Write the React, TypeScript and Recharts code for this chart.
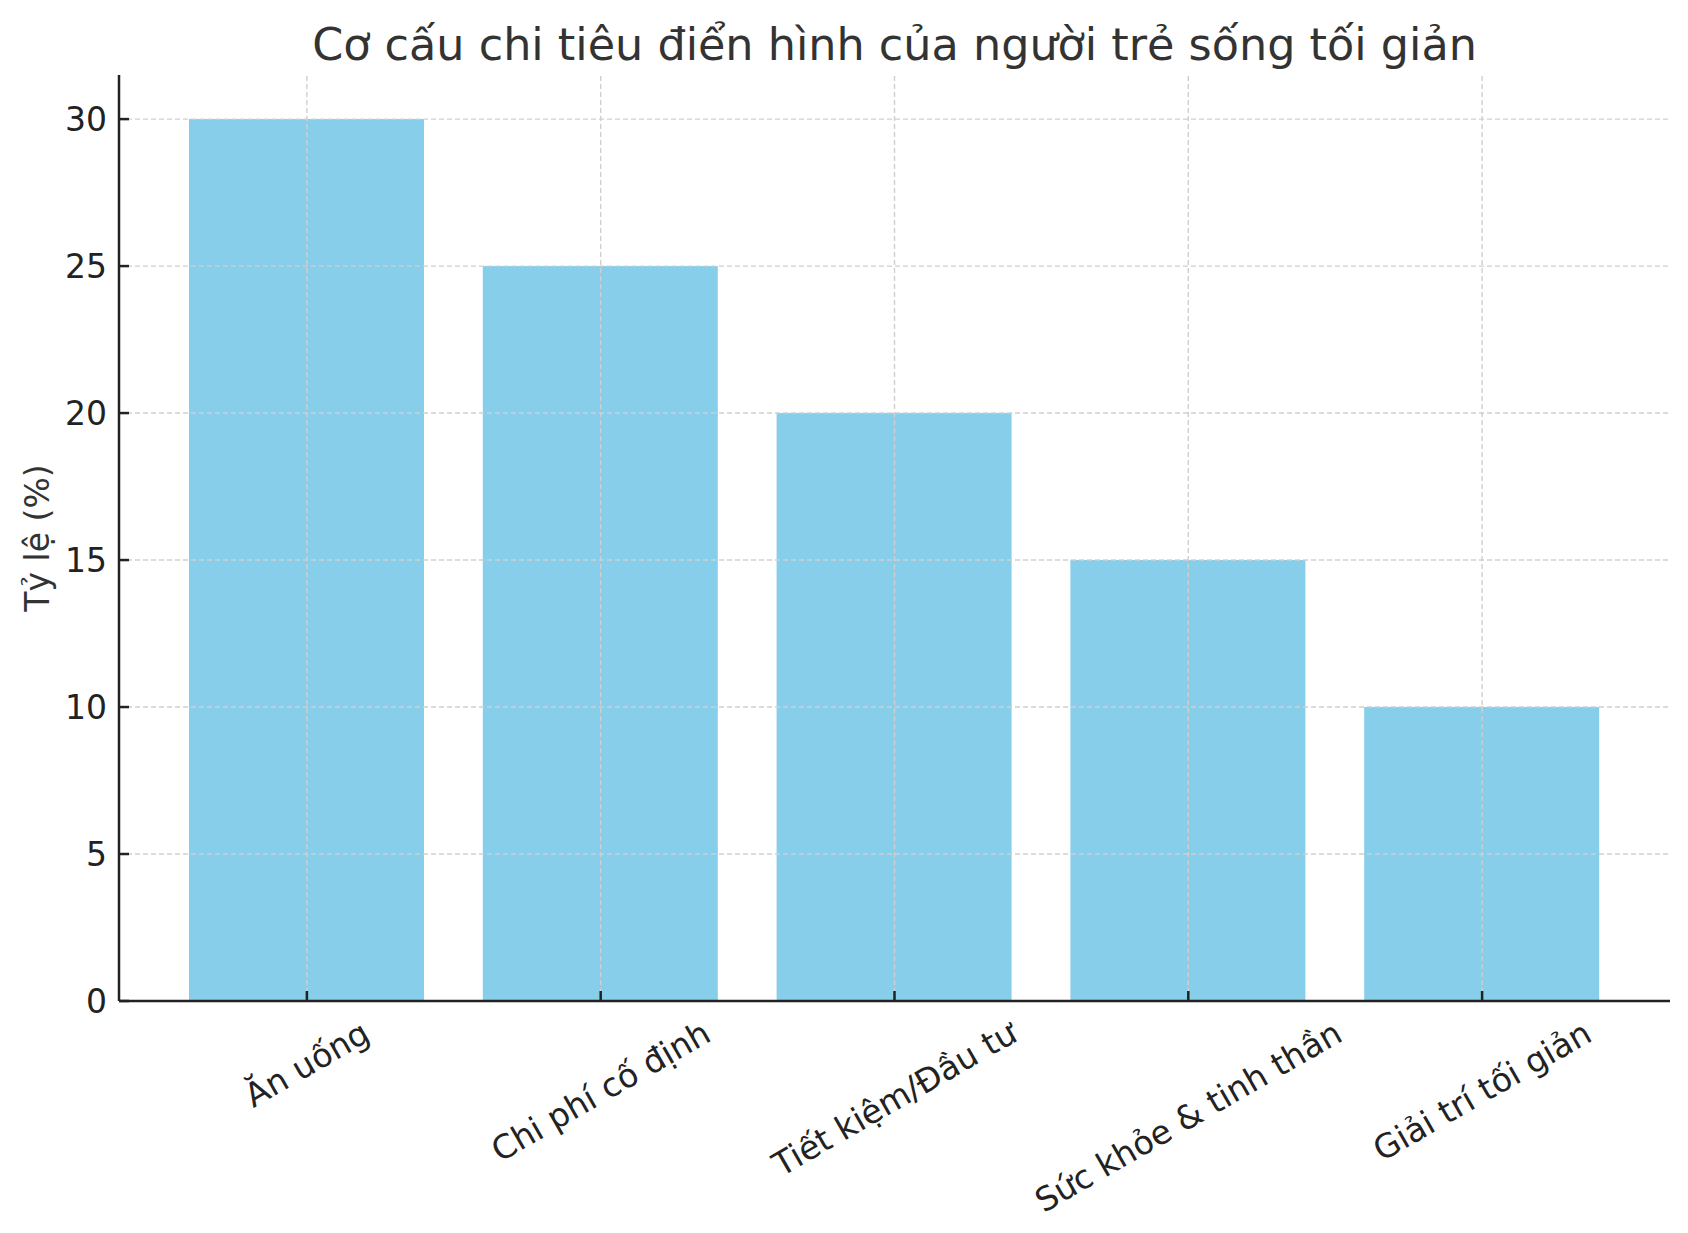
import React from "react";
import { BarChart, Bar, XAxis, YAxis, ReferenceLine } from "recharts";

const categories = [
  "Ăn uống",
  "Chi phí cố định",
  "Tiết kiệm/Đầu tư",
  "Sức khỏe & tinh thần",
  "Giải trí tối giản",
];
const shares = [30, 25, 20, 15, 10];
const yTicks = [0, 5, 10, 15, 20, 25, 30];

const data = categories.map((name, i) => ({ name, value: shares[i] }));

const FONT = "'DejaVu Sans', sans-serif";
const TICK_SIZE = 33;
const AXIS_COLOR = "#222";
const GRID = { stroke: "#cfcfcf", strokeWidth: 1.4, strokeDasharray: "5 3" };

let ctx: CanvasRenderingContext2D | null = null;
const measure = (s: string) => {
  if (!ctx) ctx = document.createElement("canvas").getContext("2d");
  if (!ctx) return s.length * TICK_SIZE * 0.55;
  ctx.font = `${TICK_SIZE}px 'DejaVu Sans'`;
  return ctx.measureText(s).width;
};

const YTick = (props: any) => {
  const { x, y, payload } = props;
  return (
    <g>
      <line x1={x} x2={x + 10} y1={y} y2={y} stroke={AXIS_COLOR} strokeWidth={2.5} />
      <text
        x={x - 12}
        y={y}
        textAnchor="end"
        dominantBaseline="central"
        fontFamily={FONT}
        fontSize={TICK_SIZE}
        fill={AXIS_COLOR}
      >
        {payload.value}
      </text>
    </g>
  );
};

const XTick = (props: any) => {
  const { x, y, payload } = props;
  const w = measure(payload.value);
  const h = TICK_SIZE * 1.17;
  const rad = Math.PI / 6;
  const boxH = w * Math.sin(rad) + h * Math.cos(rad);
  const cy = y + 12 + boxH / 2;
  return (
    <g>
      <line x1={x} x2={x} y1={y} y2={y - 10} stroke={AXIS_COLOR} strokeWidth={2.5} />
      <text
        transform={`translate(${x},${cy}) rotate(-30)`}
        textAnchor="middle"
        dominantBaseline="central"
        fontFamily={FONT}
        fontSize={TICK_SIZE}
        fill={AXIS_COLOR}
      >
        {payload.value}
      </text>
    </g>
  );
};

const YLabel = (props: any) => {
  const { viewBox } = props;
  const cx = viewBox.x + 18;
  const cy = viewBox.y + viewBox.height / 2;
  return (
    <text
      transform={`translate(${cx},${cy}) rotate(-90)`}
      textAnchor="middle"
      dominantBaseline="central"
      fontFamily={FONT}
      fontSize={TICK_SIZE}
      fill="#333"
    >
      Tỷ lệ (%)
    </text>
  );
};

export default function App() {
  return (
    <div style={{ position: "absolute", left: 0, top: 0, width: 1688, height: 1233, background: "#fff" }}>
      <svg width={1688} height={90} style={{ position: "absolute", left: 0, top: 0 }}>
        <text x={894.5} y={60} textAnchor="middle" fontFamily={FONT} fontSize={44.5} fill="#333">
          Cơ cấu chi tiêu điển hình của người trẻ sống tối giản
        </text>
      </svg>
      <BarChart
        width={1688}
        height={1233}
        data={data}
        margin={{ top: 75, right: 18, bottom: 32, left: 19 }}
      >
        <XAxis
          dataKey="name"
          height={200}
          padding={{ left: 41, right: 41 }}
          tick={<XTick />}
          tickSize={0}
          tickMargin={0}
          interval={0}
          axisLine={{ stroke: AXIS_COLOR, strokeWidth: 2.5 }}
          tickLine={false}
        />
        <YAxis
          width={100}
          domain={[0, 31.5]}
          ticks={yTicks}
          tick={<YTick />}
          tickSize={0}
          tickMargin={0}
          axisLine={{ stroke: AXIS_COLOR, strokeWidth: 2.5 }}
          tickLine={false}
          label={<YLabel />}
        />
        <Bar dataKey="value" fill="#87CEEB" barSize={235} isAnimationActive={false} />
        {yTicks.slice(1).map((v) => (
          <ReferenceLine key={`h-${v}`} y={v} {...GRID} />
        ))}
        {categories.map((c) => (
          <ReferenceLine key={`v-${c}`} x={c} {...GRID} />
        ))}
      </BarChart>
    </div>
  );
}
